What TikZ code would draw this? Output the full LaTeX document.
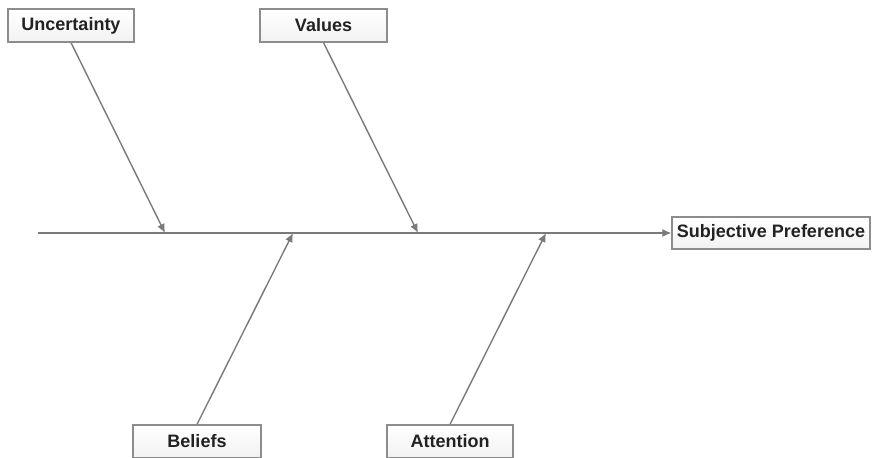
\documentclass[tikz,border=0pt]{standalone}
\usepackage{fontspec}
\setmainfont{Liberation Sans}
\usetikzlibrary{arrows.meta}

\definecolor{boxline}{HTML}{8C8C8C}
\definecolor{armline}{HTML}{7A7A7A}
\definecolor{labeltext}{HTML}{222222}

\tikzset{
  cause/.style={draw=boxline,line width=0.65pt,top color=white,bottom color=gray!10,
    minimum height=16.5pt,text=labeltext,font=\fontsize{9}{11}\selectfont\bfseries,
    inner sep=0pt},
  arm/.style={draw=armline,line width=0.7pt,-{Latex[length=4.5pt,width=4pt]}}
}

\begin{document}
\begin{tikzpicture}[x=0.5pt,y=0.5pt]
\useasboundingbox (0,0) rectangle (872,458);

\node[cause,minimum width=63pt] (unc) at (71,432.5) {Uncertainty};
\node[cause,minimum width=63.5pt] (val) at (323.5,432.5) {Values};
\node[cause,minimum width=64pt] (bel) at (197,16.5) {Beliefs};
\node[cause,minimum width=63pt] (att) at (450,16.5) {Attention};
\node[cause,minimum width=99pt,minimum height=16pt] (pref) at (771,225) {Subjective Preference};

% spine
\coordinate (tail) at (38,225);
\coordinate (c1) at (165,225);
\coordinate (c2) at (293,225);
\coordinate (c3) at (418,225);
\coordinate (c4) at (546,225);

\draw[arm] (tail) -- (pref.west);
\draw[arm] (unc.south) -- (c1);
\draw[arm] (bel.north) -- (c2);
\draw[arm] (val.south) -- (c3);
\draw[arm] (att.north) -- (c4);
\end{tikzpicture}
\end{document}
